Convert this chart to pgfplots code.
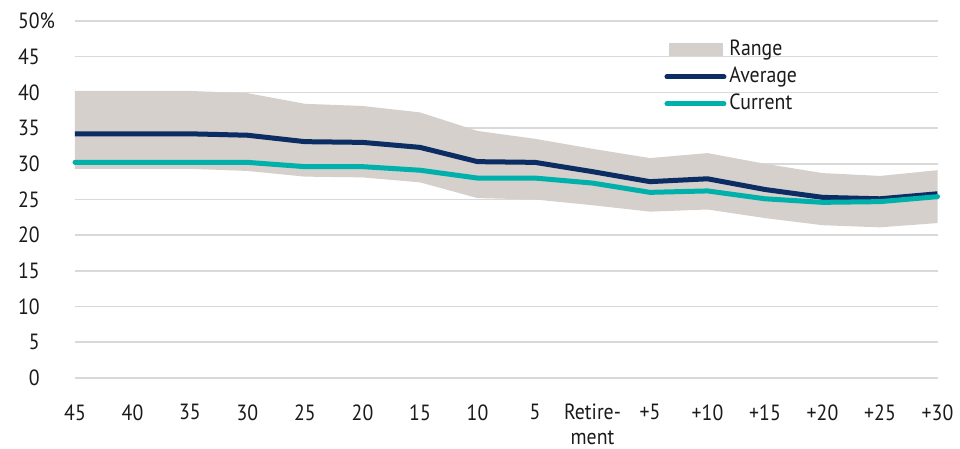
\documentclass[border=0pt]{standalone}
\usepackage{pgfplots}
\pgfplotsset{compat=1.18}
\usepackage{pgfplotstable}
\usepgfplotslibrary{fillbetween}
\usepackage{fontspec}
\setmainfont{PT Sans}[FakeStretch=0.9]
\definecolor{rangegrey}{HTML}{D5D0CB}
\definecolor{avgblue}{HTML}{0B2D63}
\definecolor{curteal}{HTML}{00B0AA}
\definecolor{gridgrey}{HTML}{D9D9D9}
\definecolor{txt}{HTML}{1A1A1A}

\pgfplotstableread{
x top bottom avg cur
0 40.2 29.3 34.2 30.2
1 40.2 29.3 34.2 30.2
2 40.2 29.3 34.2 30.2
3 39.9 29.0 34.0 30.2
4 38.4 28.2 33.1 29.6
5 38.1 28.1 33.0 29.6
6 37.2 27.4 32.3 29.1
7 34.6 25.2 30.3 28.0
8 33.5 25.0 30.2 28.0
9 32.1 24.2 28.9 27.3
10 30.8 23.3 27.5 26.0
11 31.5 23.6 27.9 26.2
12 30.0 22.4 26.4 25.1
13 28.7 21.4 25.3 24.6
14 28.3 21.1 25.1 24.7
15 29.1 21.7 25.8 25.4
}\data

\pgfplotsset{
  rangelegend/.style={legend image code/.code={\fill[rangegrey] (1pt,-3pt) rectangle (27.5pt,3pt);}},
  linelegend/.style={legend image code/.code={\draw[##1, line cap=round] (0pt,0pt) -- (28.5pt,0pt);}},
}

\begin{document}
\begin{tikzpicture}
\begin{axis}[
  scale only axis,
  width=431.25pt, height=178.5pt,
  xmin=0, xmax=15, ymin=0, ymax=50,
  xtick={0,...,15},
  xticklabels={45,40,35,30,25,20,15,10,5,{Retire-\\ment},+5,+10,+15,+20,+25,+30},
  ytick={0,5,...,50},
  yticklabels={0,5,10,15,20,25,30,35,40,45,50\rlap{\%}},
  ymajorgrids, major grid style={gridgrey, line width=0.8pt},
  axis line style={draw=none},
  major tick length=0pt,
  tick label style={font=\fontsize{11}{12.5}\selectfont, text=txt},
  xticklabel style={align=center, anchor=north, inner sep=0pt, yshift=-13pt},
  yticklabel style={anchor=east, inner sep=0pt, xshift=-17.5pt},
  legend style={draw=none, fill=none, at={(0.683,0.958)}, anchor=north west,
    font=\fontsize{11}{13}\selectfont, text=txt, row sep=0pt, inner sep=0pt,
    nodes={inner sep=1.5pt, text height=8pt, text depth=2.5pt}},
  legend cell align=left,
  clip=false,
]
\addplot[name path=top, draw=none, forget plot] table[x=x,y=top]{\data};
\addplot[name path=bot, draw=none, forget plot] table[x=x,y=bottom]{\data};
\addplot[rangegrey, forget plot] fill between[of=top and bot];
\addplot[avgblue, line width=2.5pt, line join=round, forget plot] table[x=x,y=avg]{\data};
\addplot[curteal, line width=2.5pt, line join=round, line cap=round, forget plot] table[x=x,y=cur]{\data};
\addlegendimage{rangelegend}
\addlegendentry{Range}
\addlegendimage{avgblue, line width=2.5pt, linelegend}
\addlegendentry{Average}
\addlegendimage{curteal, line width=2.5pt, linelegend}
\addlegendentry{Current}
\end{axis}
\path[use as bounding box] (-37.5pt,-35.5pt) rectangle (442.5pt,189pt);
\end{tikzpicture}
\end{document}
